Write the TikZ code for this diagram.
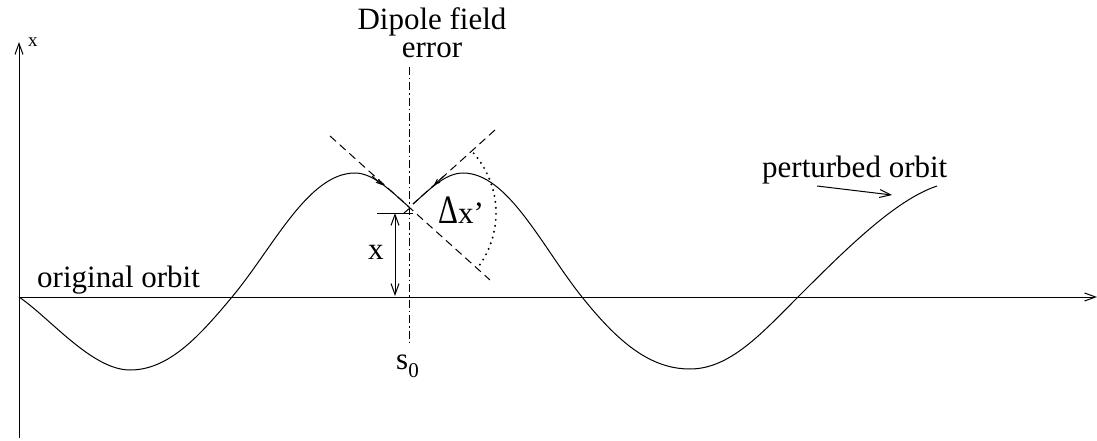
\documentclass[tikz,border=0pt]{standalone}
\usepackage{fontspec}
\setmainfont{Liberation Serif}
\usetikzlibrary{arrows.meta}
\tikzset{
  ln/.style={line width=1pt, black},
  barb/.style={ln, -{Straight Barb[length=11pt,width=8pt]}},
  dbarb/.style={ln, {Straight Barb[length=11pt,width=8pt]}-{Straight Barb[length=11pt,width=8pt]}},
  tinybarb/.style={ln, -{Straight Barb[length=5pt,width=4pt]}},
  lbl/.style={inner sep=0pt, font=\fontsize{31}{28}\selectfont},
  smalllbl/.style={inner sep=0pt, font=\fontsize{19}{19}\selectfont},
  tangent/.style={ln, dash pattern=on 8pt off 5pt},
  markline/.style={ln, dash pattern=on 8pt off 3pt on 1.5pt off 3pt},
  arcdots/.style={line width=2.2pt, dash pattern=on 0pt off 6pt, line cap=round},
}
\begin{document}
\begin{tikzpicture}[x=1pt,y=-1pt]
\useasboundingbox (0,0) rectangle (1097,441);
% axes
\coordinate (O) at (19,297);
\coordinate (xend) at (1097,297);
\coordinate (ytop) at (19,42);
\coordinate (ybot) at (19,438);
\draw[barb] (O) -- (xend);
\draw[barb] (ybot) -- (ytop);
\node[smalllbl, anchor=base west] (xaxislbl) at (28,47) {x};
% dipole marker line
\coordinate (dtop) at (409,67);
\coordinate (dbot) at (409,343);
\draw[markline] (dtop) -- (dbot);
\node[lbl, anchor=base, align=center] (dipole) at (432,58) {Dipole field\\error};
\node[lbl, anchor=base west] (s0) at (396,369) {s\raisebox{-8pt}{\fontsize{21}{21}\selectfont 0}};
% perturbed orbit curve
\coordinate (kinkL) at (409,207);
\coordinate (kinkR) at (413,204);
\draw[ln] (O) .. controls (50,318) and (92,370) .. (130,370)
  .. controls (168,370) and (198,338) .. (232,297)
  .. controls (273,248) and (308,173) .. (355,173)
  .. controls (373,173) and (391,191) .. (kinkL);
\draw[ln] (kinkR) .. controls (429,190) and (445,173) .. (463,173)
  .. controls (508,173) and (542,247) .. (582,297)
  .. controls (618,342) and (650,369) .. (690,369)
  .. controls (730,369) and (762,333) .. (798,297)
  .. controls (845,250) and (895,200) .. (937,186);
% small hook at kink
\coordinate (hookA) at (404,213);
\coordinate (hookB) at (410,208);
\draw[ln] (hookA) -- (hookB);
% tangent lines
\coordinate (tLa) at (330,136);
\coordinate (tLb) at (490,280);
\coordinate (tRa) at (495,130);
\draw[tangent] (tLa) -- (tLb);
\draw[tangent] (tRa) -- (kinkR);
% tiny arrow marks on curve
\coordinate (amL1) at (372,176);
\coordinate (amL2) at (382,185);
\coordinate (amR1) at (444,176);
\coordinate (amR2) at (434,185);
\draw[tinybarb] (amL1) -- (amL2);
\draw[tinybarb] (amR1) -- (amR2);
% dotted angle arc
\coordinate (arcC) at (405,213);
\draw[arcdots] (arcC) ++(-41:91) arc[start angle=-41, end angle=38, radius=91];
\node[lbl, anchor=base west] (dxp) at (438,223) {\scalebox{1}[1.3]{Δ}x’};
% displacement x
\coordinate (tickL) at (377,213);
\coordinate (tickR) at (413,213);
\draw[ln] (tickL) -- (tickR);
\coordinate (xa) at (395,213);
\coordinate (xb) at (395,296);
\draw[dbarb] (xa) -- (xb);
\node[lbl, anchor=base west] (xlbl) at (368,259) {x};
% labels
\node[lbl, anchor=base west] (orig) at (37,287) {original orbit};
\node[lbl, anchor=base west] (pert) at (762,177) {perturbed orbit};
\coordinate (pa) at (817,186);
\coordinate (pb) at (892,195);
\draw[barb] (pa) -- (pb);
\end{tikzpicture}
\end{document}
